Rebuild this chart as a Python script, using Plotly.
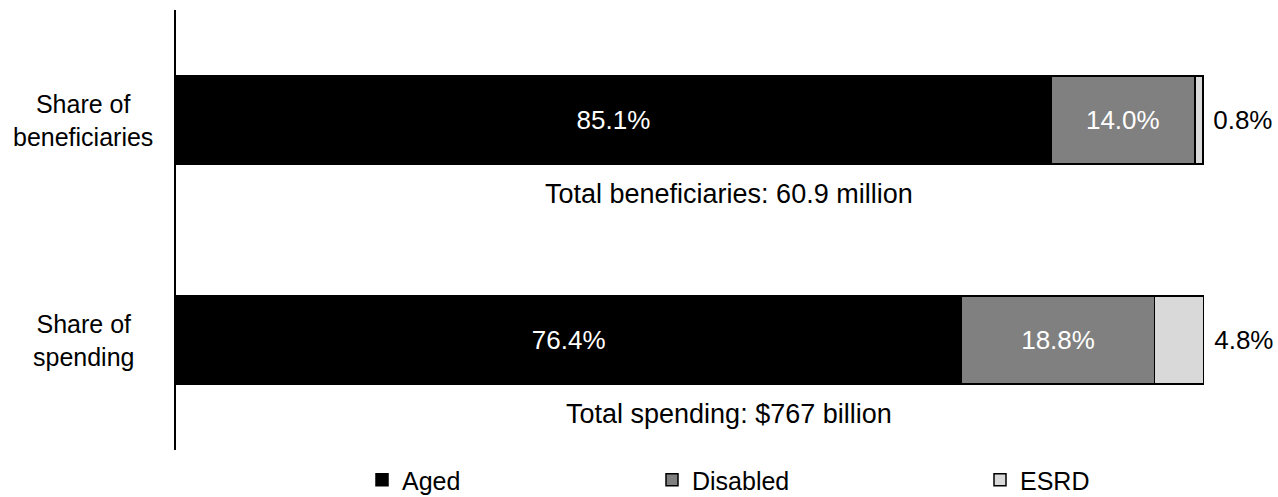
import plotly.graph_objects as go

categories = ["Share of<br>beneficiaries", "Share of<br>spending"]
cat_keys = ["beneficiaries", "spending"]
aged = [85.1, 76.4]
disabled = [14.0, 18.8]
esrd = [0.8, 4.8]
totals = ["Total beneficiaries: 60.9 million", "Total spending: $767 billion"]
series_names = ["Aged", "Disabled", "ESRD"]
colors = ["#000000", "#808080", "#D9D9D9"]
text_colors = ["#FFFFFF", "#FFFFFF", "#000000"]

FONT = "Liberation Sans, Arial, sans-serif"
L, R, T, B = 176, 74, 10, 47
W, H = 1278, 497
pw = W - L - R
ph = H - T - B

fig = go.Figure()
legend_ids = ["legend", "legend2", "legend3"]
for i, (name, vals) in enumerate(zip(series_names, [aged, disabled, esrd])):
    fig.add_trace(go.Bar(
        y=cat_keys, x=vals, orientation="h", name=name,
        marker=dict(color=colors[i], line=dict(color="#000000", width=1.5)),
        text=[f"{v:.1f}%" for v in vals],
        texttemplate=" %{text}" if i == 2 else "%{text}",
        textposition="outside" if i == 2 else "inside",
        insidetextanchor="middle",
        textfont=dict(family=FONT, size=26, color=text_colors[i]),
        outsidetextfont=dict(family=FONT, size=26, color="#000000"),
        cliponaxis=False,
        width=0.4,
        legend=legend_ids[i],
        hoverinfo="skip",
    ))

annotations = []
for k, lab in zip(cat_keys, categories):
    annotations.append(dict(
        x=(83 - L) / pw, xref="paper", y=k, yref="y",
        text=lab, showarrow=False, xanchor="center", yanchor="middle",
        align="center", font=dict(family=FONT, size=25, color="#000000")))
for idx, t in enumerate(totals):
    annotations.append(dict(
        x=53.8, xref="x", y=idx + 0.335, yref="y", text=t, showarrow=False,
        xanchor="center", yanchor="middle",
        font=dict(family=FONT, size=27, color="#000000")))

leg_px = [362, 652, 980]
legend_common = dict(orientation="h", yanchor="middle", xanchor="left",
                     y=(H - B - 480) / ph,
                     font=dict(family=FONT, size=25, color="#000000"),
                     bgcolor="rgba(0,0,0,0)", borderwidth=0)

layout_legends = {}
for lid, px in zip(legend_ids, leg_px):
    d = dict(legend_common)
    d["x"] = (px - L) / pw
    layout_legends[lid] = d

fig.update_layout(
    width=W, height=H,
    margin=dict(l=L, r=R, t=T, b=B, pad=0, autoexpand=False),
    barmode="stack",
    plot_bgcolor="#FFFFFF", paper_bgcolor="#FFFFFF",
    xaxis=dict(range=[0, 100], visible=False, fixedrange=True),
    yaxis=dict(type="category", categoryorder="array", categoryarray=cat_keys,
               range=[1.5, -0.5], showline=True, linecolor="#000000", linewidth=1.5,
               showticklabels=False, ticks="", showgrid=False, zeroline=False),
    annotations=annotations,
    showlegend=True,
    uniformtext=dict(mode=False),
    **layout_legends,
)
fig.update_traces(constraintext="none")

fig.write_html("out.html")
